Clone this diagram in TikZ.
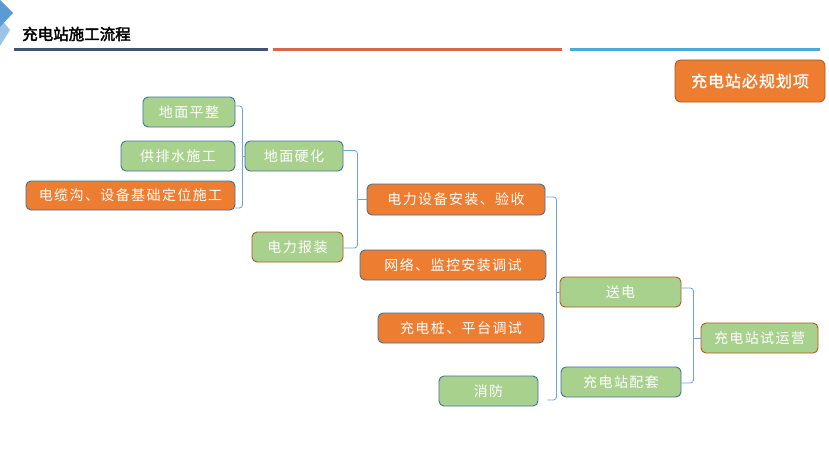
\documentclass[tikz,border=0pt]{standalone}
\usepackage{fontspec}
\newfontfamily\cjk[LetterSpace=10]{Noto Sans CJK SC}
\newfontfamily\cjktitle[FakeBold=2.5]{Noto Sans CJK SC}
\newfontfamily\cjkhead[LetterSpace=6,FakeBold=1.2]{Noto Sans CJK SC}
\usetikzlibrary{positioning}
\definecolor{gfill}{HTML}{A9D18E}
\definecolor{ofill}{HTML}{ED7D31}
\definecolor{bdr}{HTML}{41719C}
\definecolor{brn}{HTML}{AE5A21}
\definecolor{conncol}{HTML}{6FA3D6}
\definecolor{ldark}{HTML}{3F5573}
\definecolor{lorange}{HTML}{D8664A}
\definecolor{lcyan}{HTML}{4AAAD0}
\definecolor{logoA}{HTML}{5B9BD5}
\definecolor{logoB}{HTML}{9DC3E6}
\tikzset{
  box/.style={rounded corners=5pt, line width=0.9pt, inner sep=0pt,
    font=\cjk\fontsize{14}{16}\selectfont, text=white, anchor=center},
  gbox/.style={box, fill=gfill, draw=bdr},
  gbbox/.style={box, fill=gfill, draw=brn},
  obox/.style={box, fill=ofill, draw=bdr},
  conn/.style={draw=conncol, line width=0.8pt, rounded corners=3pt},
}
\newcommand{\bx}[7]{% name, style, x1, y1, x2, y2, text
  \node[#2, minimum width=#5pt-#3pt, minimum height=#6pt-#4pt] (#1) at ({(#3+#5)/2},{(#4+#6)/2}) {#7};}
\begin{document}
\begin{tikzpicture}[x=1pt,y=-1pt]
\useasboundingbox[fill=white] (0,0) rectangle (829,460);
% logo
\fill[logoB] (0,18) -- (10,30) -- (0,46) -- cycle;
\fill[logoA] (0,0) -- (13,13) -- (0,27) -- cycle;
% title
\node[anchor=west, inner sep=0pt, font=\cjktitle\fontsize{15.5}{17}\selectfont, text=black] (title) at (22,34) {充电站施工流程};
\draw[ldark, line width=2.2pt] (14,49.5) -- (268,49.5);
\draw[lorange, line width=2.2pt] (273,49.5) -- (562,49.5);
\draw[lcyan, line width=2.2pt] (570,49.5) -- (820,49.5);
% header box
\node[rounded corners=6pt, fill=ofill, draw=brn, line width=0.9pt, minimum width=150pt, minimum height=42pt,
  font=\cjkhead\fontsize{16}{18}\selectfont, text=white] (plan) at (750,81) {充电站必规划项};
% boxes
\bx{a1}{gbox}{143}{97}{235}{127}{地面平整}
\bx{a2}{gbox}{121}{141}{235}{171}{供排水施工}
\bx{a3}{obox}{26}{181}{235}{210}{电缆沟、设备基础定位施工}
\bx{b1}{gbox}{245}{141}{343}{171}{地面硬化}
\bx{b2}{gbbox}{252}{232}{343}{262}{电力报装}
\bx{c1}{obox}{367}{184}{545}{215}{电力设备安装、验收}
\bx{c2}{obox}{360}{250}{546}{280}{网络、监控安装调试}
\bx{c3}{obox}{378}{313}{544}{343}{充电桩、平台调试}
\bx{c4}{gbox}{439}{376}{538}{406}{消防}
\bx{d1}{gbbox}{560}{277}{681}{307}{送电}
\bx{d2}{gbox}{561}{367}{681}{397}{充电站配套}
\bx{e1}{gbbox}{701}{323}{818}{353}{充电站试运营}
% connectors
\draw[conn] ([yshift=6pt]a1.east) -- ++(7,0) -- ([xshift=7pt,yshift=-12.5pt]a3.east) -- ([yshift=-12.5pt]a3.east);
\draw[conn] ([xshift=-3pt]b1.west) -- (b1.west);
\draw[conn] ([yshift=5.5pt]b1.east) -- ++(14,0) -- ([xshift=14pt,yshift=-1pt]b2.east) -- ([yshift=-1pt]b2.east);
\draw[conn] ([xshift=-10pt]c1.west) -- (c1.west);
\draw[conn] ([yshift=2.5pt]c1.east) -- ++(11,0) -- ([xshift=18pt,yshift=-9pt]c4.east) -- ([xshift=9pt,yshift=-9pt]c4.east);
\draw[conn] ([xshift=-4pt]d1.west) -- (d1.west);
\draw[conn] ([yshift=4pt]d1.east) -- ++(12,0) -- ([xshift=12pt,yshift=-1pt]d2.east) -- ([yshift=-1pt]d2.east);
\draw[conn] ([xshift=-8pt]e1.west) -- (e1.west);
\end{tikzpicture}
\end{document}
